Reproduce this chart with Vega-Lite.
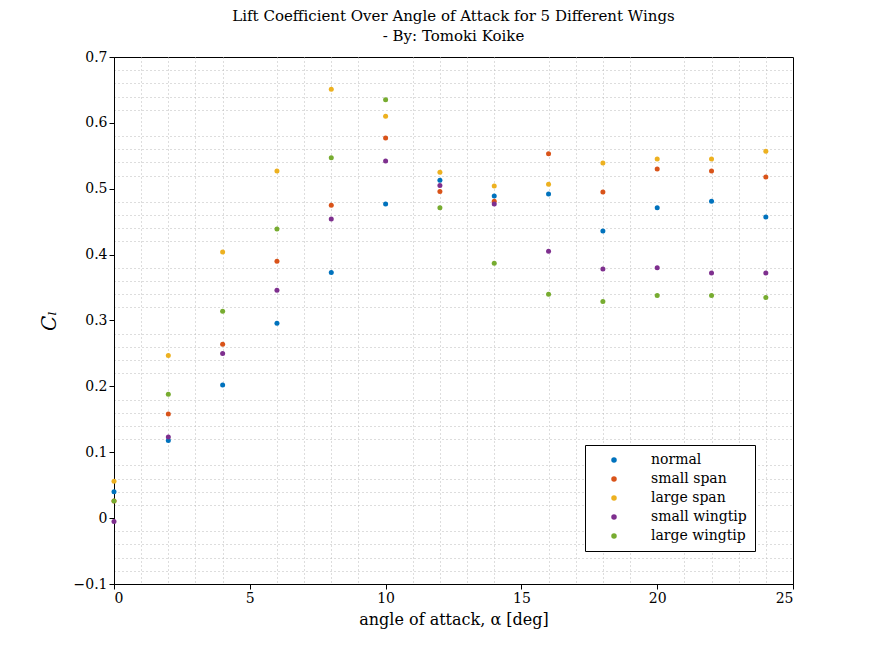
{
  "$schema": "https://vega.github.io/schema/vega-lite/v6.json",
  "autosize": "none",
  "width": 679,
  "height": 527,
  "padding": {"left": 114, "top": 57, "right": 82, "bottom": 72},
  "background": "white",
  "title": {
    "text": ["Lift Coefficient Over Angle of Attack for 5 Different Wings", "- By: Tomoki Koike"],
    "font": "DejaVu Serif",
    "fontSize": 15,
    "fontWeight": "normal",
    "color": "black",
    "offset": 6,
    "lineHeight": 20
  },
  "config": {
    "view": {"stroke": "black", "strokeWidth": 1},
    "axis": {"labelFont": "DejaVu Serif", "titleFont": "DejaVu Serif", "labelFontSize": 14, "titleFontSize": 16, "titleFontWeight": "normal", "labelColor": "black", "titleColor": "black", "domainColor": "black", "tickColor": "black", "tickSize": 5}
  },
  "resolve": {"axis": {"x": "independent", "y": "independent"}},
  "data": {
    "values": [
      {"alpha": 0, "CL": 0.040, "wing": "normal"},
      {"alpha": 2, "CL": 0.118, "wing": "normal"},
      {"alpha": 4, "CL": 0.202, "wing": "normal"},
      {"alpha": 6, "CL": 0.296, "wing": "normal"},
      {"alpha": 8, "CL": 0.373, "wing": "normal"},
      {"alpha": 10, "CL": 0.477, "wing": "normal"},
      {"alpha": 12, "CL": 0.513, "wing": "normal"},
      {"alpha": 14, "CL": 0.489, "wing": "normal"},
      {"alpha": 16, "CL": 0.492, "wing": "normal"},
      {"alpha": 18, "CL": 0.436, "wing": "normal"},
      {"alpha": 20, "CL": 0.471, "wing": "normal"},
      {"alpha": 22, "CL": 0.481, "wing": "normal"},
      {"alpha": 24, "CL": 0.457, "wing": "normal"},
      {"alpha": 0, "CL": 0.026, "wing": "small span"},
      {"alpha": 2, "CL": 0.158, "wing": "small span"},
      {"alpha": 4, "CL": 0.264, "wing": "small span"},
      {"alpha": 6, "CL": 0.390, "wing": "small span"},
      {"alpha": 8, "CL": 0.475, "wing": "small span"},
      {"alpha": 10, "CL": 0.577, "wing": "small span"},
      {"alpha": 12, "CL": 0.496, "wing": "small span"},
      {"alpha": 14, "CL": 0.481, "wing": "small span"},
      {"alpha": 16, "CL": 0.553, "wing": "small span"},
      {"alpha": 18, "CL": 0.495, "wing": "small span"},
      {"alpha": 20, "CL": 0.530, "wing": "small span"},
      {"alpha": 22, "CL": 0.527, "wing": "small span"},
      {"alpha": 24, "CL": 0.518, "wing": "small span"},
      {"alpha": 0, "CL": 0.056, "wing": "large span"},
      {"alpha": 2, "CL": 0.247, "wing": "large span"},
      {"alpha": 4, "CL": 0.404, "wing": "large span"},
      {"alpha": 6, "CL": 0.527, "wing": "large span"},
      {"alpha": 8, "CL": 0.651, "wing": "large span"},
      {"alpha": 10, "CL": 0.610, "wing": "large span"},
      {"alpha": 12, "CL": 0.525, "wing": "large span"},
      {"alpha": 14, "CL": 0.504, "wing": "large span"},
      {"alpha": 16, "CL": 0.507, "wing": "large span"},
      {"alpha": 18, "CL": 0.539, "wing": "large span"},
      {"alpha": 20, "CL": 0.545, "wing": "large span"},
      {"alpha": 22, "CL": 0.545, "wing": "large span"},
      {"alpha": 24, "CL": 0.557, "wing": "large span"},
      {"alpha": 0, "CL": -0.005, "wing": "small wingtip"},
      {"alpha": 2, "CL": 0.123, "wing": "small wingtip"},
      {"alpha": 4, "CL": 0.250, "wing": "small wingtip"},
      {"alpha": 6, "CL": 0.346, "wing": "small wingtip"},
      {"alpha": 8, "CL": 0.454, "wing": "small wingtip"},
      {"alpha": 10, "CL": 0.542, "wing": "small wingtip"},
      {"alpha": 12, "CL": 0.505, "wing": "small wingtip"},
      {"alpha": 14, "CL": 0.477, "wing": "small wingtip"},
      {"alpha": 16, "CL": 0.405, "wing": "small wingtip"},
      {"alpha": 18, "CL": 0.378, "wing": "small wingtip"},
      {"alpha": 20, "CL": 0.380, "wing": "small wingtip"},
      {"alpha": 22, "CL": 0.372, "wing": "small wingtip"},
      {"alpha": 24, "CL": 0.372, "wing": "small wingtip"},
      {"alpha": 0, "CL": 0.026, "wing": "large wingtip"},
      {"alpha": 2, "CL": 0.188, "wing": "large wingtip"},
      {"alpha": 4, "CL": 0.314, "wing": "large wingtip"},
      {"alpha": 6, "CL": 0.439, "wing": "large wingtip"},
      {"alpha": 8, "CL": 0.547, "wing": "large wingtip"},
      {"alpha": 10, "CL": 0.635, "wing": "large wingtip"},
      {"alpha": 12, "CL": 0.471, "wing": "large wingtip"},
      {"alpha": 14, "CL": 0.387, "wing": "large wingtip"},
      {"alpha": 16, "CL": 0.340, "wing": "large wingtip"},
      {"alpha": 18, "CL": 0.329, "wing": "large wingtip"},
      {"alpha": 20, "CL": 0.338, "wing": "large wingtip"},
      {"alpha": 22, "CL": 0.338, "wing": "large wingtip"},
      {"alpha": 24, "CL": 0.335, "wing": "large wingtip"}
    ]
  },
  "layer": [
    {
      "mark": {"type": "point", "opacity": 0},
      "encoding": {
        "x": {"field": "alpha", "type": "quantitative", "scale": {"domain": [0, 25], "nice": false},
          "axis": {"orient": "bottom", "values": [1,2,3,4,6,7,8,9,11,12,13,14,16,17,18,19,21,22,23,24], "labels": false, "ticks": false, "domain": false, "title": null, "gridDash": [1, 3], "gridColor": "#bbbbbb", "gridOpacity": 1}},
        "y": {"field": "CL", "type": "quantitative", "scale": {"domain": [-0.1, 0.7], "nice": false},
          "axis": {"orient": "left", "values": [-0.08,-0.06,-0.04,-0.02,0.02,0.04,0.06,0.08,0.12,0.14,0.16,0.18,0.22,0.24,0.26,0.28,0.32,0.34,0.36,0.38,0.42,0.44,0.46,0.48,0.52,0.54,0.56,0.58,0.62,0.64,0.66,0.68], "labels": false, "ticks": false, "domain": false, "title": null, "gridDash": [1, 3], "gridColor": "#bbbbbb", "gridOpacity": 1}}
      }
    },
    {
      "mark": {"type": "point", "filled": true, "size": 25, "opacity": 1},
      "encoding": {
        "x": {"field": "alpha", "type": "quantitative",
          "axis": {"orient": "bottom", "values": [0, 5, 10, 15, 20, 25], "title": "angle of attack, α [deg]", "gridColor": "#dddddd", "gridOpacity": 1, "titlePadding": 6}},
        "y": {"field": "CL", "type": "quantitative",
          "axis": {"orient": "left", "values": [-0.1, 0, 0.1, 0.2, 0.3, 0.4, 0.5, 0.6, 0.7], "format": ".1~f", "title": "Cₗ", "titleFontStyle": "italic", "titleFontSize": 20, "gridColor": "#dddddd", "gridOpacity": 1, "titlePadding": 14}},
        "color": {"field": "wing", "type": "nominal",
          "scale": {"domain": ["normal", "small span", "large span", "small wingtip", "large wingtip"], "range": ["#0072BD", "#D95319", "#EDB120", "#7E2F8E", "#77AC30"]},
          "legend": {"title": null, "orient": "none", "legendX": 471, "legendY": 388, "labelFont": "DejaVu Serif", "labelFontSize": 14, "labelColor": "black", "fillColor": "white", "strokeColor": "black", "padding": 8, "rowPadding": 5, "symbolSize": 30, "symbolType": "circle", "symbolOffset": 14, "labelOffset": 30, "labelLimit": 300}}
      }
    }
  ]
}
